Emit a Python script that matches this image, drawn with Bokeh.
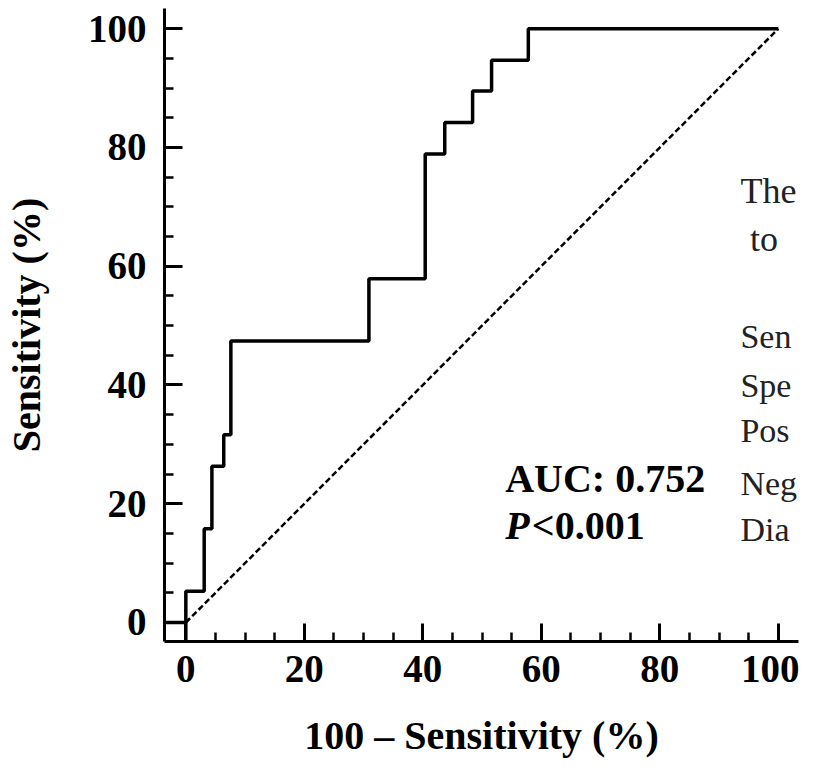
from bokeh.plotting import figure
from bokeh.models import Range1d, Label, SingleIntervalTicker
from bokeh.embed import file_html
from bokeh.resources import INLINE

# ---- data ----
fpr_jumps = [0.0, 3.1, 4.4, 6.4, 7.6, 30.9, 40.4, 43.7, 48.4, 51.6, 57.8]
sens_after = [5.26, 15.8, 26.3, 31.6, 47.4, 57.9, 78.9, 84.2, 89.5, 94.7, 100.0]
chance_x = [0, 100]
chance_y = [0, 100]
auc_text = "AUC: 0.752"
p_text = "<0.001"
side_head = ["The", "to"]
side_lines = ["Sen", "Spe", "Pos", "Neg", "Dia"]

X_LO, X_HI = -3.6, 103.4
Y_LO, Y_HI = -3.2, 103.4
SERIF = "Liberation Serif"

# step path of the ROC curve
xs = [X_LO, 0.0]
ys = [0.0, 0.0]
prev_y = 0.0
for fx, sy in zip(fpr_jumps, sens_after):
    xs += [fx, fx]
    ys += [prev_y, sy]
    prev_y = sy
xs.append(100.0)
ys.append(prev_y)

p = figure(width=799, height=760, output_backend="svg", toolbar_location=None,
           x_range=Range1d(X_LO, X_HI), y_range=Range1d(Y_LO, Y_HI),
           min_border_left=158, min_border_right=1, min_border_top=8,
           min_border_bottom=116)
p.outline_line_color = None
p.xgrid.visible = False
p.ygrid.visible = False
p.background_fill_color = "white"
p.border_fill_color = "white"

p.line(chance_x, chance_y, line_color="black", line_width=2.5, line_dash="6 3")
p.line(xs, ys, line_color="black", line_width=3.5)
p.line([0, 0], [Y_LO, 0], line_color="black", line_width=3.5)

for ax in (p.xaxis[0], p.yaxis[0]):
    ax.ticker = SingleIntervalTicker(interval=20, num_minor_ticks=4)
    ax.axis_line_width = 3
    ax.axis_line_color = "black"
    ax.major_tick_in = 18
    ax.major_tick_out = 0
    ax.minor_tick_in = 9
    ax.minor_tick_out = 0
    ax.major_tick_line_width = 3
    ax.minor_tick_line_width = 2.5
    ax.major_tick_line_color = "black"
    ax.minor_tick_line_color = "black"
    ax.major_label_text_font = SERIF
    ax.major_label_text_font_style = "bold"
    ax.major_label_text_font_size = "39px"
    ax.major_label_text_color = "black"
    ax.axis_label_text_font = SERIF
    ax.axis_label_text_font_style = "bold"
    ax.axis_label_text_font_size = "40px"
    ax.axis_label_text_color = "black"

p.xaxis.axis_label = "100 \u2013 Sensitivity (%)"
p.yaxis.axis_label = "Sensitivity (%)"
p.xaxis.major_label_standoff = 14
p.yaxis.major_label_standoff = 18
p.xaxis.axis_label_standoff = 28
p.yaxis.axis_label_standoff = 36

p.add_layout(Label(x=53.9, y=24.3, text=auc_text, text_font=SERIF,
                   text_font_style="bold", text_font_size="40px",
                   text_color="black", text_baseline="alphabetic"))
p.add_layout(Label(x=53.9, y=16.4, text="P", text_font=SERIF,
                   text_font_style="bold italic", text_font_size="40px",
                   text_color="black", text_baseline="alphabetic"))
p.add_layout(Label(x=58.4, y=16.4, text=p_text, text_font=SERIF,
                   text_font_style="bold", text_font_size="40px",
                   text_color="black", text_baseline="alphabetic"))

p.add_layout(Label(x=93.6, y=72.6, text=side_head[0], text_font=SERIF,
                   text_font_size="36px", text_color="#222222",
                   text_baseline="alphabetic"))
p.add_layout(Label(x=95.2, y=64.5, text=side_head[1], text_font=SERIF,
                   text_font_size="36px", text_color="#222222",
                   text_baseline="alphabetic"))
side_y = [48.1, 39.9, 32.3, 23.4, 15.6]
for t, yy in zip(side_lines, side_y):
    p.add_layout(Label(x=93.6, y=yy, text=t, text_font=SERIF,
                       text_font_size="34px", text_color="#222222",
                       text_baseline="alphabetic"))

open("out.html", "w").write(file_html(p, INLINE))
